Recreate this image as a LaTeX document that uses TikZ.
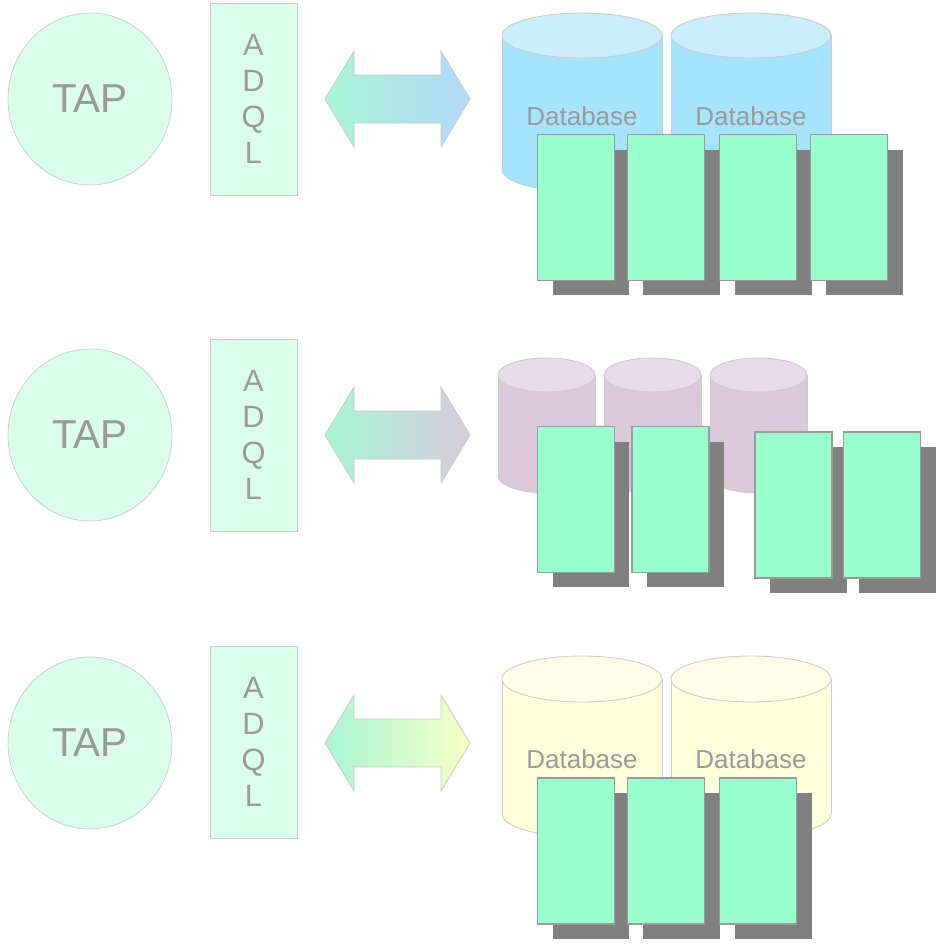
\documentclass[tikz,border=0pt]{standalone}
\usepackage{fontspec}
\setmainfont{Liberation Sans}
\usepackage{tikz}
\usetikzlibrary{shadows,shapes.geometric}
\definecolor{tapfill}{HTML}{DAFDEC}
\definecolor{lightline}{HTML}{CCCCCC}
\definecolor{labelgray}{HTML}{9A9A9A}
\definecolor{tablegreen}{HTML}{99FFCC}
\definecolor{shadowgray}{HTML}{808080}
\definecolor{arrowmint}{HTML}{A9F6D5}
\definecolor{blueend}{HTML}{B4D8FA}
\definecolor{purpleend}{HTML}{D7CCDC}
\definecolor{yellowend}{HTML}{F6FFC6}
\definecolor{bluebody}{HTML}{A6E4FE}
\definecolor{bluetop}{HTML}{CBEEFC}
\definecolor{purplebody}{HTML}{DBC9DB}
\definecolor{purpletop}{HTML}{E8DCEA}
\definecolor{yellowbody}{HTML}{FFFFDC}
\definecolor{yellowtop}{HTML}{FFFFE8}
\newcommand*{\dbcylinder}[7]{% x,ytop,ybottom,rx,ry,body,top
		\draw [dbline, fill=#6] (#1,#3) ellipse ({#4} and {#5});
		\fill [#6] (#1-#4,#2) rectangle (#1+#4,#3);
		\draw [dbline] (#1-#4,#2) -- (#1-#4,#3) (#1+#4,#2) -- (#1+#4,#3);
		\draw [dbline, fill=#7] (#1,#2) ellipse ({#4} and {#5});
}
\newcommand*{\queryarrow}[2]{% yoffset,endcolor
		\shade [left color=arrowmint, right color=#2, draw=lightline, line width=0.5pt]
			(325,99+#1) -- (354,51+#1) -- (354,75+#1) -- (441,75+#1) -- (441,51+#1)
			-- (470,99+#1) -- (441,147+#1) -- (441,123+#1) -- (354,123+#1) -- (354,147+#1) -- cycle;
}
\tikzset{tapnode/.style={ellipse, draw=lightline, fill=tapfill, inner sep=0pt,
	minimum width=3.28cm, minimum height=3.44cm, text=labelgray, font=\fontsize{23}{27}\selectfont}}
\tikzset{adqlbox/.style={rectangle, draw=lightline, fill=tapfill, inner sep=0pt,
	minimum width=1.74cm, minimum height=3.84cm, text=labelgray, align=center,
	font=\fontsize{17.5}{20.4}\selectfont}}
\tikzset{tablebox/.style={rectangle, draw=labelgray, fill=tablegreen, inner sep=0pt, line width=0.6pt,
	minimum width=1.54cm, minimum height=2.92cm,
	drop shadow={shadow xshift=0.3cm, shadow yshift=-0.3cm, fill=shadowgray, opacity=1, draw=none}}}
\tikzset{dbline/.style={draw=lightline, line width=0.5pt}}
\tikzset{dblabel/.style={text=labelgray, font=\fontsize{14.8}{17}\selectfont}}

\begin{document}
\begin{tikzpicture}[x=0.02cm, y=-0.02cm]
			\useasboundingbox (0,0) rectangle (943,946);
			% first row
			\node [tapnode] (tap1) at (90,99) {TAP};
			\node [adqlbox] (adql1) at (253.5,99) {A\\D\\Q\\L};
			\queryarrow{0}{blueend}
			\dbcylinder{582}{35.5}{169.5}{80}{22.5}{bluebody}{bluetop}
			\dbcylinder{751}{35.5}{169.5}{80}{22.5}{bluebody}{bluetop}
			\node [dblabel] (db1a) at (582,116) {Database};
			\node [dblabel] (db1b) at (751,116) {Database};
			\foreach \x [count=\i] in {576,666,758,849}
				\node [tablebox] (ta\i) at (\x,207.5) {};
			% second row
			\node [tapnode] (tap2) at (90,435) {TAP};
			\node [adqlbox] (adql2) at (253.5,435) {A\\D\\Q\\L};
			\queryarrow{336}{purpleend}
			\dbcylinder{546.5}{375}{476}{48.5}{17}{purplebody}{purpletop}
			\dbcylinder{652.5}{375}{476}{48.5}{17}{purplebody}{purpletop}
			\dbcylinder{758.5}{375}{476}{48.5}{17}{purplebody}{purpletop}
			\node [tablebox] (tb1) at (576,499.5) {};
			\node [tablebox] (tb2) at (670.5,499.5) {};
			\node [tablebox] (tb3) at (793.5,505) {};
			\node [tablebox] (tb4) at (882,505) {};
			% third row
			\node [tapnode] (tap3) at (90,743) {TAP};
			\node [adqlbox] (adql3) at (253.5,742) {A\\D\\Q\\L};
			\queryarrow{644}{yellowend}
			\dbcylinder{582}{679}{814}{80}{23}{yellowbody}{yellowtop}
			\dbcylinder{751}{679}{814}{80}{23}{yellowbody}{yellowtop}
			\node [dblabel] (db3a) at (582,759) {Database};
			\node [dblabel] (db3b) at (751,759) {Database};
			\foreach \x [count=\i] in {576,666,758}
				\node [tablebox] (tc\i) at (\x,851) {};
\end{tikzpicture}
\end{document}
